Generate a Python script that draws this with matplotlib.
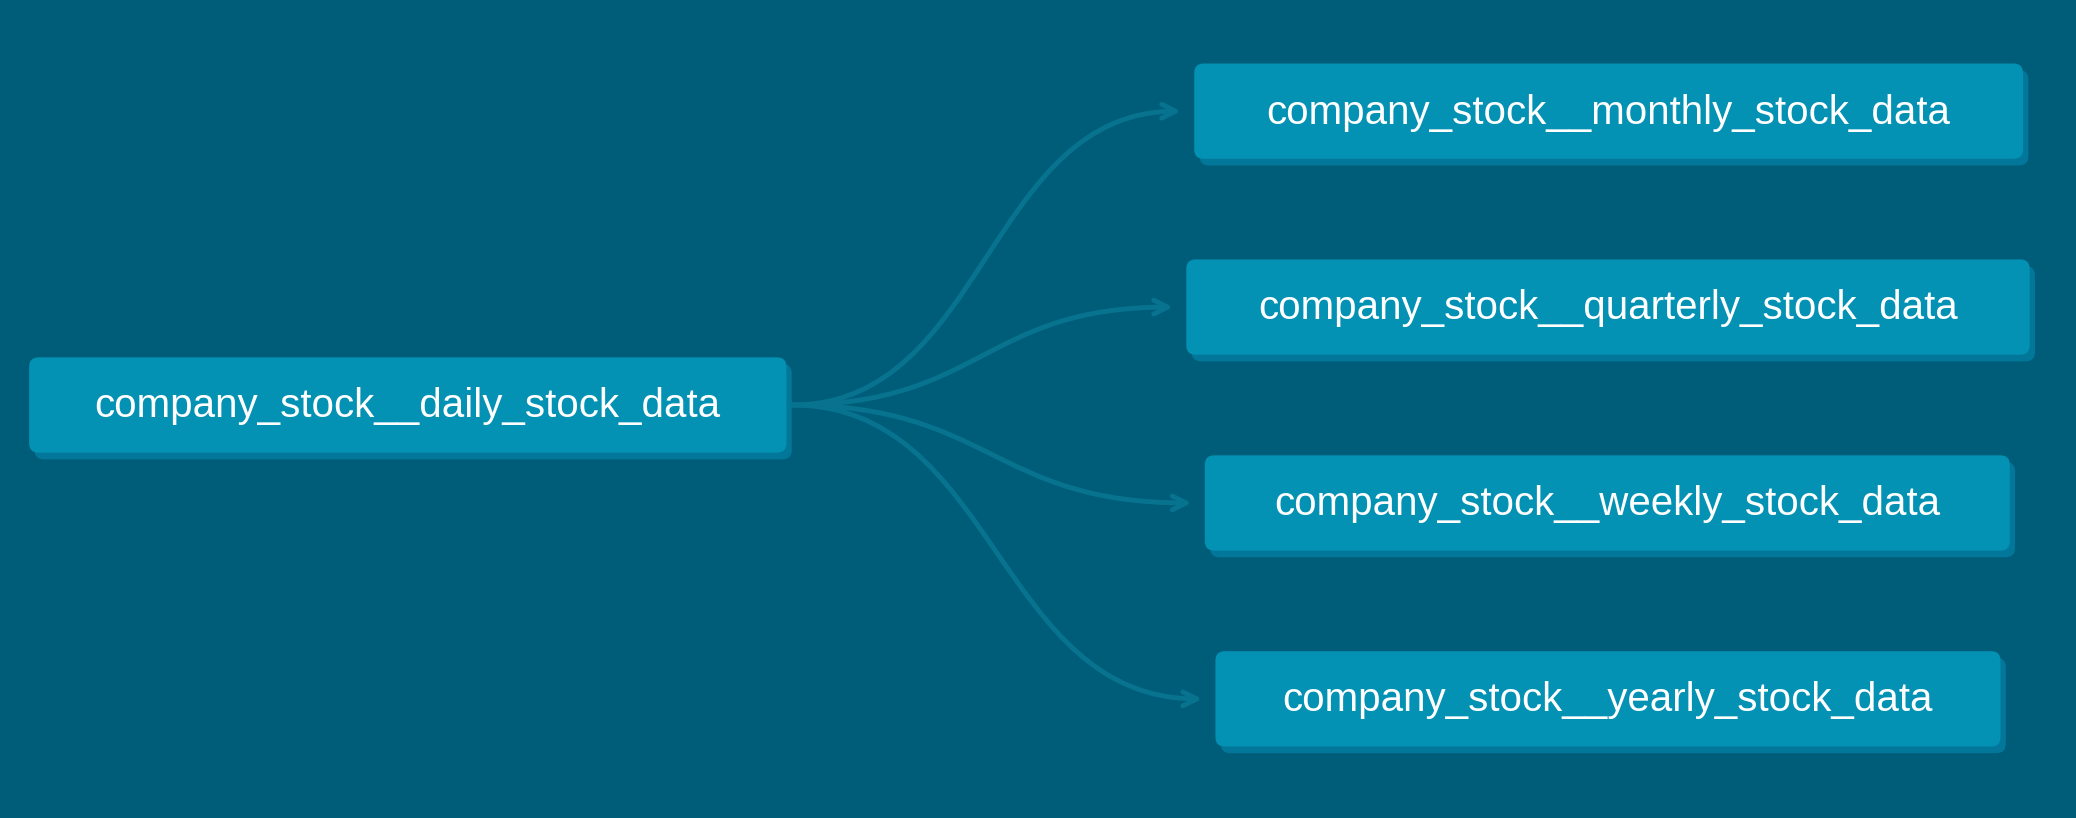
import matplotlib.pyplot as plt
from matplotlib.patches import FancyBboxPatch, FancyArrowPatch
from matplotlib.path import Path

# node labels and box extents (x0, x1, y0, y1) in reference image units
source = "company_stock__daily_stock_data"
targets = ["company_stock__monthly_stock_data",
           "company_stock__quarterly_stock_data",
           "company_stock__weekly_stock_data",
           "company_stock__yearly_stock_data"]
source_box = (22, 594, 270, 342)
target_boxes = [(902, 1528, 48, 120),
                (896, 1533, 196, 268),
                (910, 1518, 344, 416),
                (918, 1511, 492, 564)]

bg = "#005d79"
box_col = "#0391b4"
shadow_col = "#03779a"
edge_col = "#08738f"

fig = plt.figure(figsize=(20.76, 8.18), dpi=100)
fig.patch.set_facecolor(bg)
ax = fig.add_axes([0, 0, 1, 1])
ax.set_facecolor(bg)
ax.set_xlim(0, 1568)
ax.set_ylim(618, 0)
ax.axis("off")

def draw_node(box, label):
    x0, x1, y0, y1 = box
    sh = FancyBboxPatch((x0 + 4, y0 + 5), x1 - x0, y1 - y0,
                        boxstyle="round,pad=0,rounding_size=7",
                        fc=shadow_col, ec="none", zorder=2)
    ax.add_patch(sh)
    b = FancyBboxPatch((x0, y0), x1 - x0, y1 - y0,
                       boxstyle="round,pad=0,rounding_size=7",
                       fc=box_col, ec="none", zorder=3)
    ax.add_patch(b)
    ax.text((x0 + x1) / 2, (y0 + y1) / 2 + 1, label, color="white",
            fontsize=29, family="Liberation Sans", ha="center", va="center",
            zorder=4)

# edges
sx = source_box[1] + 4
sy = (source_box[2] + source_box[3]) / 2
for box in target_boxes:
    tx = box[0] - 10
    ty = (box[2] + box[3]) / 2
    mid = (sx + tx) / 2
    path = Path([(sx, sy), (mid, sy), (mid, ty), (tx, ty)],
                [Path.MOVETO, Path.CURVE4, Path.CURVE4, Path.CURVE4])
    arr = FancyArrowPatch(path=path, arrowstyle="->,head_length=10,head_width=5",
                          color=edge_col, lw=3.5, zorder=1)
    ax.add_patch(arr)

draw_node(source_box, source)
for box, label in zip(target_boxes, targets):
    draw_node(box, label)

fig.savefig("out.png", dpi=100, facecolor=bg)
